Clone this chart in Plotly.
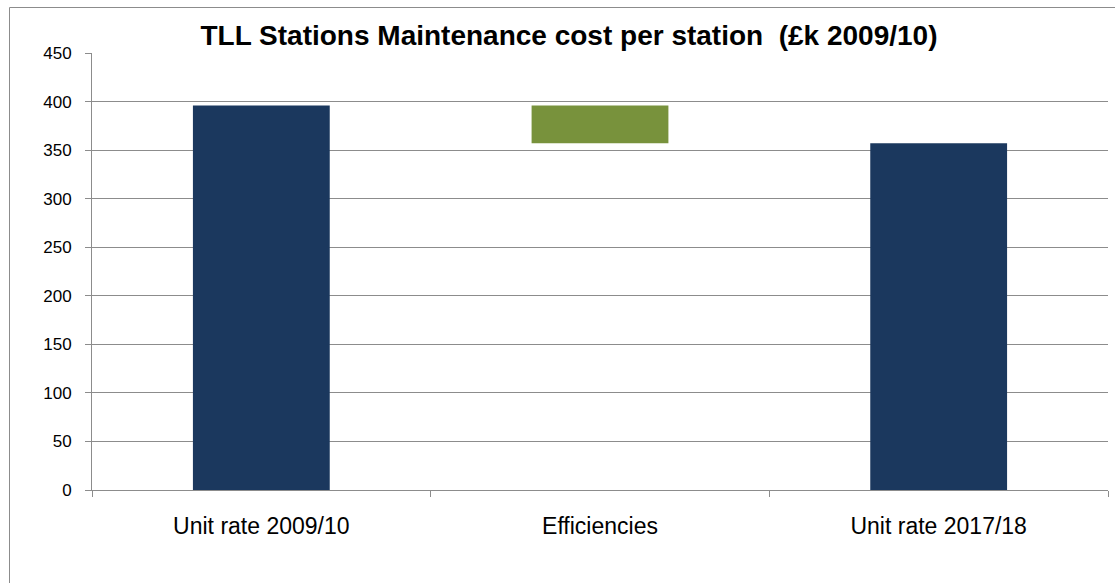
import plotly.graph_objects as go

# Maintenance cost per station, £k (2009/10 prices)
categories = ["Unit rate 2009/10", "Efficiencies", "Unit rate 2017/18"]
values = [396, -39, 357]
measures = ["absolute", "relative", "absolute"]
y_ticks = [0, 50, 100, 150, 200, 250, 300, 350, 400, 450]

NAVY = "#1B385E"
GREEN = "#78923C"
GRID = "#8C8C8C"

W, H = 1115, 583
L, R, T, B = 92, 7, 53, 93

fig = go.Figure(
    go.Waterfall(
        x=categories,
        y=values,
        measure=measures,
        totals=dict(marker=dict(color=NAVY, line=dict(width=0))),
        increasing=dict(marker=dict(color=NAVY, line=dict(width=0))),
        decreasing=dict(marker=dict(color=GREEN, line=dict(width=0))),
        connector=dict(visible=False),
        hoverinfo="skip",
    )
)

pw = W - L - R
ph = H - T - B


def px_to_paper_x(px):
    return (px - L) / pw


def px_to_paper_y(py):
    return 1 - (py - T) / ph


# chart frame (left and top edges)
fig.add_shape(type="line", xref="paper", yref="paper",
              x0=px_to_paper_x(9.5), x1=px_to_paper_x(9.5),
              y0=px_to_paper_y(7.5), y1=px_to_paper_y(H + 5),
              line=dict(color="#8C8C8C", width=1))
fig.add_shape(type="line", xref="paper", yref="paper",
              x0=px_to_paper_x(9.5), x1=px_to_paper_x(W + 5),
              y0=px_to_paper_y(7.5), y1=px_to_paper_y(7.5),
              line=dict(color="#8C8C8C", width=1))

fig.update_layout(
    width=W,
    height=H,
    margin=dict(l=L, r=R, t=T, b=B),
    paper_bgcolor="white",
    plot_bgcolor="white",
    showlegend=False,
    waterfallgap=0.596,
    title=dict(
        text="<b>TLL Stations Maintenance cost per station  (£k 2009/10)</b>",
        x=569 / W,
        xanchor="center",
        y=1 - 35 / H,
        yanchor="middle",
        font=dict(family="Liberation Sans, Arial, sans-serif", size=28, color="black"),
    ),
    font=dict(family="Liberation Sans, Arial, sans-serif", color="black"),
)

fig.update_yaxes(
    range=[0, 450],
    tickvals=y_ticks,
    showgrid=True,
    gridcolor=GRID,
    gridwidth=1,
    showline=True,
    linecolor=GRID,
    linewidth=1,
    ticks="outside",
    ticklen=6,
    tickcolor=GRID,
    tickfont=dict(size=17, color="black"),
    ticklabelstandoff=10,
    zeroline=False,
)

fig.update_xaxes(
    showline=True,
    linecolor=GRID,
    linewidth=1,
    ticks="outside",
    tickson="boundaries",
    ticklen=6,
    tickcolor=GRID,
    tickfont=dict(size=23, color="black"),
    ticklabelstandoff=15,
    showgrid=False,
)

fig.write_html("out.html")
